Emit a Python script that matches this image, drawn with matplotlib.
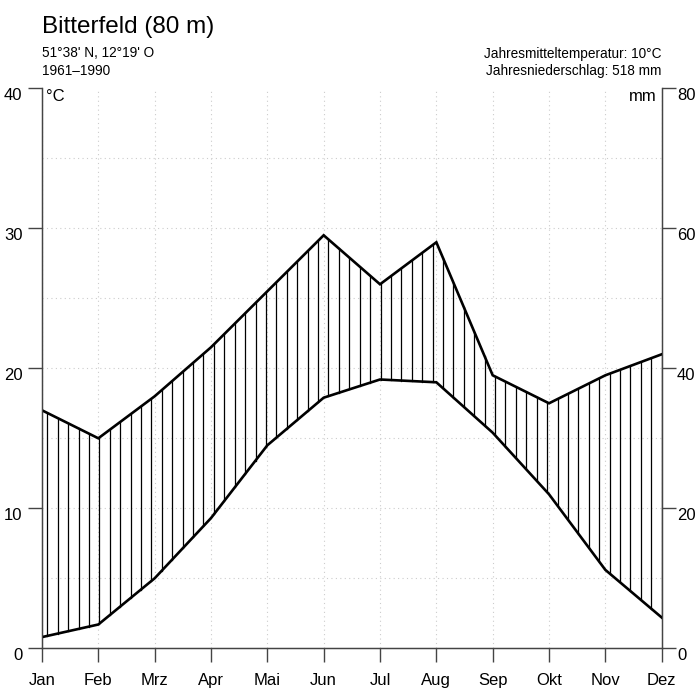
import numpy as np
import matplotlib.pyplot as plt

plt.rcParams['font.family'] = ['Liberation Sans', 'DejaVu Sans']

# Klimadaten Bitterfeld, 1961-1990
months = ['Jan', 'Feb', 'Mrz', 'Apr', 'Mai', 'Jun', 'Jul', 'Aug', 'Sep', 'Okt', 'Nov', 'Dez']
temp = [0.8, 1.7, 5.0, 9.3, 14.5, 17.9, 19.2, 19.0, 15.4, 11.0, 5.6, 2.2]   # °C
precip = [34, 30, 36, 43, 51, 59, 52, 58, 39, 35, 39, 42]                   # mm

station = 'Bitterfeld (80 m)'
coords = "51°38' N, 12°19' O"
period = '1961\u20131990'

x = np.arange(len(months))
temp = np.array(temp)
prec_scaled = np.array(precip) / 2.0  # 20 mm = 10 °C

fig = plt.figure(figsize=(6.95, 6.88), dpi=100)
ax = fig.add_axes([0.0604, 0.0577, 0.8917, 0.814])
ax.set_xlim(0, 11)
ax.set_ylim(0, 40)

axcol = '#444444'

# dotted grid: months and every 5 °C
for xi in x:
    ax.plot([xi, xi], [0, 40], color='#cccccc', lw=0.8, ls=(0, (1, 3)), zorder=1)
for yi in range(5, 40, 5):
    ax.plot([0, 11], [yi, yi], color='#cccccc', lw=0.8, ls=(0, (1, 3)), zorder=1)

# vertical hatching for the humid period
hx = 11 - np.arange(60) * 0.18485
ht = np.interp(hx, x, temp)
hp = np.interp(hx, x, prec_scaled)
for xi, lo, hi in zip(hx, ht, hp):
    if hi > lo:
        ax.plot([xi, xi], [lo, hi], color='black', lw=0.9, zorder=2)

ax.plot(x, temp, color='black', lw=1.9, zorder=3, solid_joinstyle='miter')
ax.plot(x, prec_scaled, color='black', lw=1.9, zorder=3, solid_joinstyle='miter')

# axes styling
ax.spines['top'].set_visible(False)
for s in ['left', 'right', 'bottom']:
    ax.spines[s].set_color(axcol)
    ax.spines[s].set_linewidth(1.0)
ax.set_xticks(x)
ax.set_xticklabels(months, fontsize=12)
ax.set_yticks([0, 10, 20, 30, 40])
ax.set_yticklabels(['0', '10', '20', '30', '40'], fontsize=12)
ax.tick_params(axis='x', direction='out', length=10, width=1.0, color=axcol, pad=8)
ax.tick_params(axis='y', direction='out', length=10, width=1.0, color=axcol, pad=4)
plt.setp(ax.get_yticklabels(), va='top')

ax2 = ax.twinx()
ax2.set_ylim(0, 80)
ax2.spines['top'].set_visible(False)
for s in ['left', 'right', 'bottom']:
    ax2.spines[s].set_color(axcol)
ax2.set_yticks([0, 20, 40, 60, 80])
ax2.set_yticklabels(['0', '20', '40', '60', '80'], fontsize=12)
ax2.tick_params(axis='y', direction='out', length=10, width=1.0, color=axcol, pad=1)
plt.setp(ax2.get_yticklabels(), va='top')

ax.text(0.006, 0.998, '°C', transform=ax.transAxes, ha='left', va='top', fontsize=12)
ax.text(0.992, 0.998, 'mm', transform=ax.transAxes, ha='right', va='top', fontsize=12)

# header
fig.text(42 / 695, 1 - 33.5 / 688, station, fontsize=17.5, ha='left', va='baseline')
fig.text(42 / 695, 1 - 57 / 688, coords, fontsize=9.8, ha='left', va='baseline')
fig.text(42 / 695, 1 - 75 / 688, period, fontsize=9.8, ha='left', va='baseline')
fig.text(661.5 / 695, 1 - 58 / 688, 'Jahresmitteltemperatur: 10°C', fontsize=9.8,
         ha='right', va='baseline')
fig.text(661.5 / 695, 1 - 75 / 688, 'Jahresniederschlag: 518 mm', fontsize=9.8,
         ha='right', va='baseline')

fig.savefig('out.png', dpi=100)
